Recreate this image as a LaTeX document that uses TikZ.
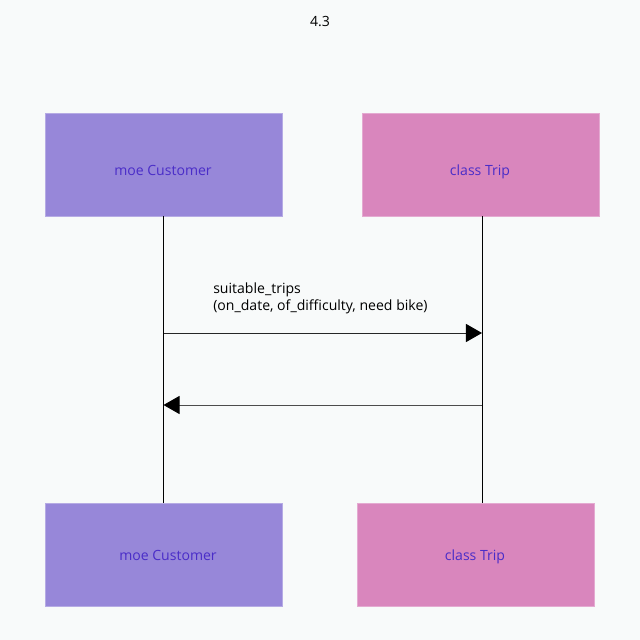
\documentclass[tikz,border=0pt]{standalone}
\usepackage{fontspec}
\setmainfont{Open Sans}
\usetikzlibrary{arrows.meta,positioning}
\definecolor{fond}{HTML}{F8FAFA}
\definecolor{violet}{HTML}{9787D9}
\definecolor{rose}{HTML}{D986BD}
\definecolor{texte}{HTML}{4A2DC8}
\tikzset{
  boite/.style={minimum width=5.925cm, minimum height=2.575cm, inner sep=0pt},
  etiquette/.style={anchor=base, text=texte, font=\fontsize{10}{12}\selectfont},
  message/.style={line width=0.7pt, -{Triangle[length=0.4cm, width=0.45cm, color=black]}}
}
\begin{document}
\begin{tikzpicture}[x=0.025cm, y=-0.025cm]
% fond et cadre
\fill[fond] (0,0) rectangle (640,640);
\useasboundingbox (0,0) rectangle (640,640);
\node[font=\fontsize{10}{12}\selectfont] (titre) at (320,22) {4.3};

% les objets en haut et en bas
\node[boite, fill=violet, draw=violet!70!white] (client) at (163.5,164.5) {};
\node[boite, fill=rose, draw=rose!70!white] (voyage) at (480.5,164.5) {};
\node[boite, fill=violet, draw=violet!70!white] (clientbas) at (163.5,554.5) {};
\node[boite, fill=rose, draw=rose!70!white] (voyagebas) at (475.5,554.5) {};
\node[etiquette] (nomclient) at (163,175) {moe Customer};
\node[etiquette] (nomvoyage) at (480,175) {class Trip};
\node[etiquette] (nomclientbas) at (168,560) {moe Customer};
\node[etiquette] (nomvoyagebas) at (475,560) {class Trip};

% lignes de vie
\draw[line width=0.7pt] (client.south) -- (clientbas.north);
\draw[line width=0.7pt] (482,216) coordinate (v1) -- (v1 |- voyagebas.north) coordinate (v2);

% messages
\coordinate (a1) at (client.south |- 0,333);
\coordinate (b1) at (v1 |- 0,333);
\coordinate (a2) at (client.south |- 0,405);
\coordinate (b2) at (v1 |- 0,405);
\draw[message, black!85] (a1) -- (b1);
\draw[message, black!70] (b2) -- (a2);
\node[anchor=base west, align=left, inner sep=0pt, font=\fontsize{10}{12}\selectfont] (appel) at (213,310)
  {suitable\_trips\\(on\_date, of\_difficulty, need bike)};
\end{tikzpicture}
\end{document}
